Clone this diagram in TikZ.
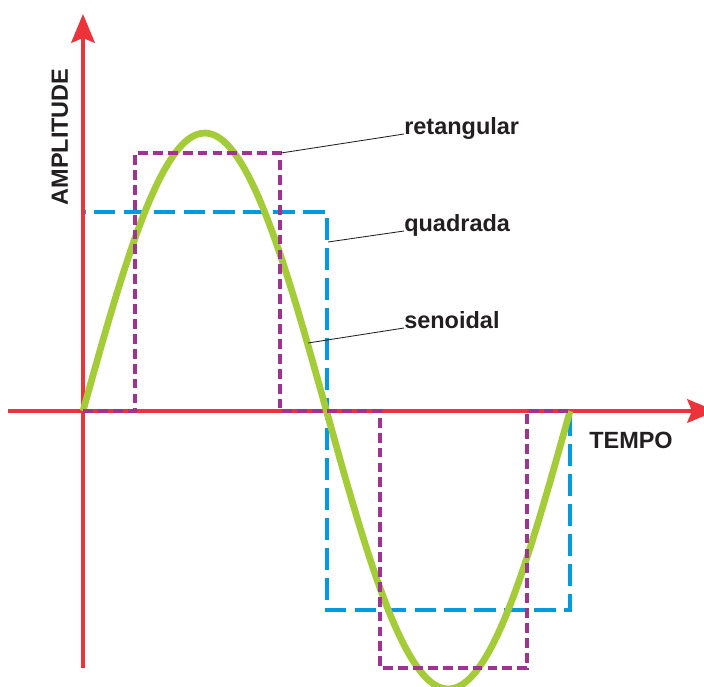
\documentclass[tikz,border=0pt]{standalone}
\usepackage{fontspec}
\setmainfont{Liberation Sans}
\usetikzlibrary{arrows.meta}
\definecolor{AxisRed}{RGB}{237,50,58}
\definecolor{WaveGreen}{RGB}{164,204,57}
\definecolor{SquareBlue}{RGB}{0,155,222}
\definecolor{RectPurple}{RGB}{160,50,145}
\definecolor{InkGray}{RGB}{35,31,32}
\tikzset{
  axis/.style={-{Stealth[length=7.2mm,width=5.9mm,inset=1.2mm]},line width=2.3pt,draw=AxisRed},
  sinewave/.style={line width=4.8pt,draw=WaveGreen},
  squarewave/.style={line width=3.5pt,draw=SquareBlue,dash pattern=on 15.5pt off 5.8pt},
  rectwave/.style={line width=3.4pt,draw=RectPurple,dash pattern=on 7pt off 3.6pt},
  leader/.style={line width=0.6pt,draw=InkGray},
  wavelabel/.style={font=\bfseries\fontsize{16.7}{20}\selectfont,text=InkGray,inner sep=0pt},
  axislabel/.style={font=\bfseries\fontsize{16.7}{20}\selectfont,text=InkGray,inner sep=0pt}
}
\begin{document}
\begin{tikzpicture}[x=0.025cm,y=-0.025cm]
  \useasboundingbox (0,0) rectangle (704,686);
  % square wave under the axes
  \draw[squarewave] (83,411) -- (83,212) -- (327,212) -- (327,610) -- (570,610) -- (570,411);
  % axes
  \coordinate (ybot) at (83,668);
  \coordinate (ytop) at (83,14);
  \coordinate (xleft) at (8,411);
  \coordinate (xright) at (716,411);
  \draw[axis] (ybot) -- (ytop);
  \draw[axis] (xleft) -- (xright);
  \node[axislabel,rotate=90] (amp) at (60,137) {AMPLITUDE};
  \node[axislabel] (tempo) at (631,440) {TEMPO};
  % sine and rectangular waves
  \draw[sinewave] plot[domain=83:570,samples=120,smooth] (\x,{411-278*sin((\x-83)/487*360)});
  \draw[rectwave] (83,411) -- (135,411) -- (135,153) -- (280,153) -- (280,411) -- (380,411)
    -- (380,668) -- (527,668) -- (527,411) -- (570,411);
  % labels
  \node[wavelabel,anchor=base west] (ret) at (404,134) {retangular};
  \node[wavelabel,anchor=base west] (quad) at (404,231) {quadrada};
  \node[wavelabel,anchor=base west] (sen) at (404,328) {senoidal};
  \coordinate (retpt) at (281,153);
  \coordinate (quadpt) at (328,242);
  \coordinate (senpt) at (308,343);
  \draw[leader] (retpt) -- (ret.base west);
  \draw[leader] (quadpt) -- (quad.base west);
  \draw[leader] (senpt) -- (sen.base west);
\end{tikzpicture}
\end{document}
